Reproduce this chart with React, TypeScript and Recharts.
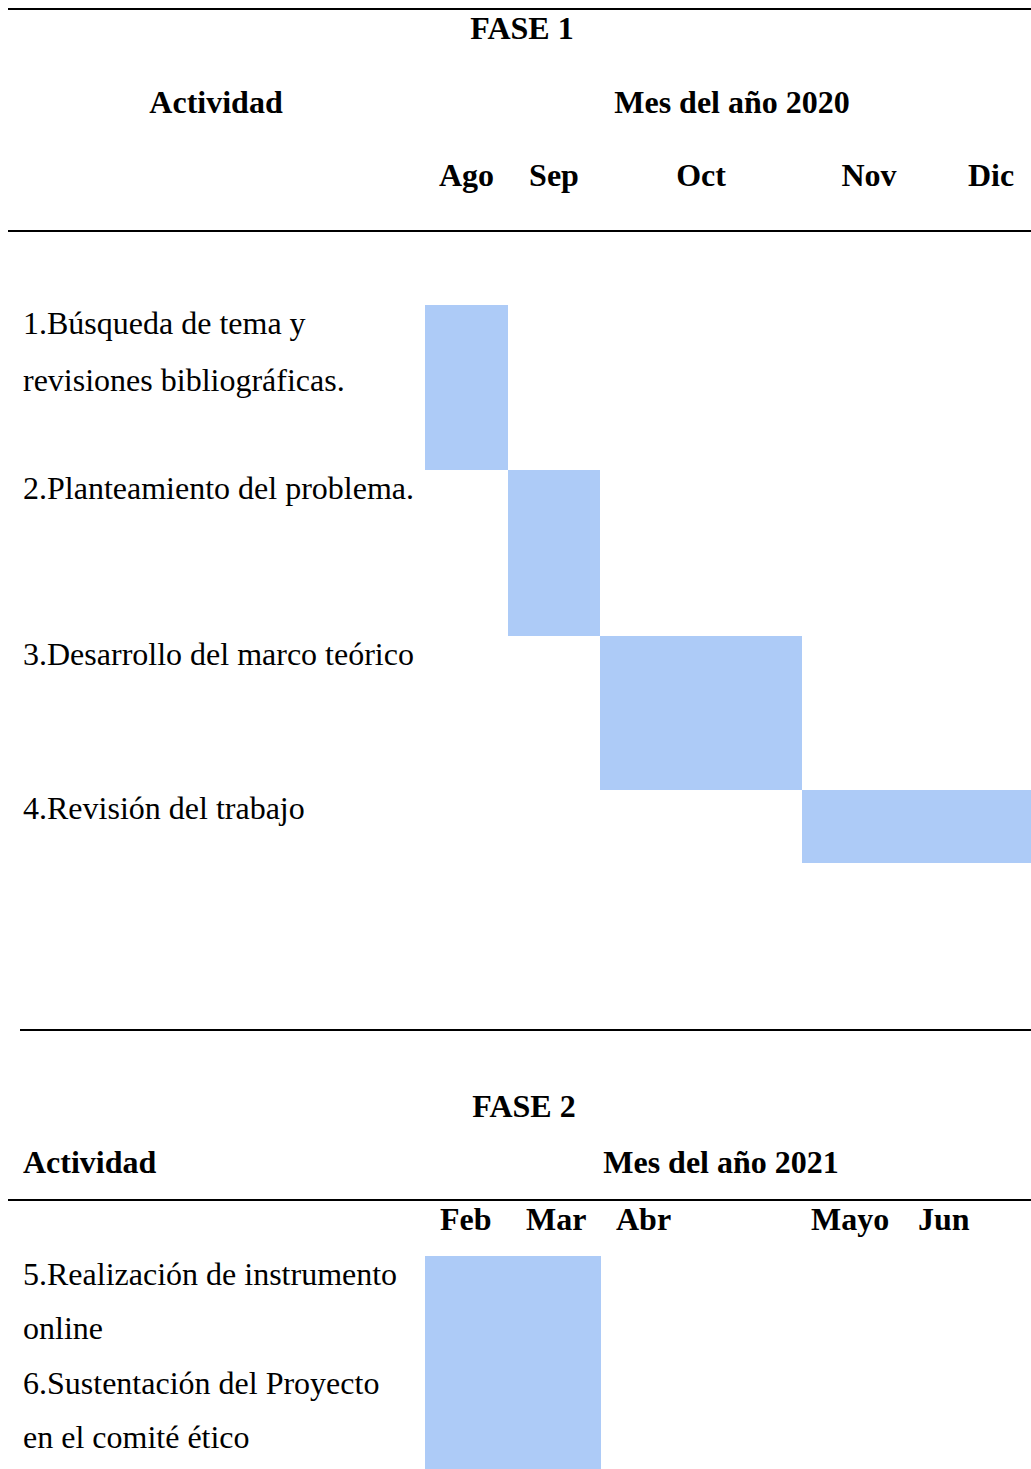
import { BarChart, Bar, XAxis, YAxis } from 'recharts';

// ---- data ----
const fase1Meses = ['Ago', 'Sep', 'Oct', 'Nov', 'Dic'];
const fase1Actividades = [
    '1.Búsqueda de tema y\nrevisiones bibliográficas.',
    '2.Planteamiento del problema.',
    '3.Desarrollo del marco teórico',
    '4.Revisión del trabajo',
];
// month index where each activity starts / ends (end exclusive)
const fase1Inicio = [0, 1, 2, 3];
const fase1Fin = [1, 2, 3, 5];

const fase2Meses = ['Feb', 'Mar', 'Abr', 'Mayo', 'Jun'];
const fase2Actividades = ['5.Realización de instrumento\nonline', '6.Sustentación del Proyecto\nen el comité ético'];
const fase2Inicio = [0, 0];
const fase2Fin = [2, 2];

// ---- table layout (uneven column widths / row heights of the source table) ----
const fase1Columnas = [83, 92, 202, 134, 110];
const fase1Filas = [165, 166, 154, 73];
const fase2Columnas = [86, 90, 195, 107, 143];
const fase2Filas = [109, 104];

const FONT = '"Liberation Serif", "Times New Roman", serif';
const AZUL = '#adcbf7';
const CHART_W = 1046;
const LABEL_W = 425;
const TXT = { fontFamily: FONT, fontSize: 32, fill: '#000' };

// piecewise linear scale: each month gets its own column width
const columnScale = (widths: number[]): any => {
    let dom = [0, widths.length];
    let rng = [0, 1];
    const total = widths.reduce((a, b) => a + b, 0);
    const scale: any = (v: number) => {
        const i = Math.max(0, Math.min(widths.length - 1, Math.floor(v)));
        let acc = 0;
        for (let k = 0; k < i; k++) acc += widths[k];
        acc += (v - i) * widths[i];
        return rng[0] + (acc / total) * (rng[1] - rng[0]);
    };
    scale.domain = (d?: number[]) => {
        if (d === undefined) return dom.slice();
        dom = d.slice();
        return scale;
    };
    scale.range = (r?: number[]) => {
        if (r === undefined) return rng.slice();
        rng = r.slice();
        return scale;
    };
    scale.invert = (px: number) => {
        const t = ((px - rng[0]) / (rng[1] - rng[0])) * total;
        let acc = 0;
        for (let k = 0; k < widths.length; k++) {
            if (t <= acc + widths[k]) return k + (t - acc) / widths[k];
            acc += widths[k];
        }
        return widths.length;
    };
    scale.ticks = () => widths.map((_, i) => i);
    scale.copy = () => columnScale(widths).domain(dom).range(rng);
    return scale;
};

type RowProps = {
    name: string;
    span: [number, number];
    meses: string[];
    columnas: number[];
    height: number;
    axisHeight?: number;
    monthMode: 'center' | 'start';
    monthLift: number;
    lineGap: number;
};

const RowChart = ({ name, span, meses, columnas, height, axisHeight, monthMode, monthLift, lineGap }: RowProps) => {
    const showAxis = axisHeight !== undefined;
    const ticks = meses.map((_, i) => (monthMode === 'center' ? i + 0.5 : i));
    return (
        <BarChart
            width={CHART_W}
            height={height + (axisHeight ?? 0)}
            data={[{ name, span }]}
            layout="vertical"
            margin={{ top: 0, right: 0, bottom: 0, left: 0 }}
            barCategoryGap={0}
            barGap={0}>
            <XAxis
                type="number"
                orientation="top"
                domain={[0, meses.length]}
                scale={columnScale(columnas)}
                ticks={ticks}
                interval={0}
                hide={!showAxis}
                height={axisHeight ?? 0}
                tickSize={0}
                tickMargin={0}
                axisLine={false}
                tickLine={false}
                tick={(p: any) => (
                    <text
                        x={p.x + (monthMode === 'start' ? 15 : 0)}
                        y={p.y - monthLift}
                        textAnchor={monthMode === 'start' ? 'start' : 'middle'}
                        style={{ ...TXT, fontWeight: 'bold' }}>
                        {meses[Math.floor(p.payload.value)]}
                    </text>
                )}
            />
            <YAxis
                type="category"
                dataKey="name"
                width={LABEL_W}
                axisLine={false}
                tickLine={false}
                tickSize={0}
                tick={(p: any) => {
                    const lines = String(p.payload.value).split('\n');
                    const top = p.y - height / 2;
                    return (
                        <text x={23} y={top + 29} textAnchor="start" style={TXT}>
                            {lines.map((l, i) => (
                                <tspan key={i} x={23} dy={i === 0 ? 0 : lineGap}>
                                    {l}
                                </tspan>
                            ))}
                        </text>
                    );
                }}
            />
            <Bar dataKey="span" fill={AZUL} isAnimationActive={false} />
        </BarChart>
    );
};

type FaseProps = {
    actividades: string[];
    inicio: number[];
    fin: number[];
    meses: string[];
    columnas: number[];
    filas: number[];
    firstTop: number;
    axisHeight: number;
    monthMode: 'center' | 'start';
    monthLift: number;
    lineGap: number;
};

const Fase = (f: FaseProps) => {
    let top = f.firstTop;
    return (
        <>
            {f.actividades.map((a, i) => {
                const h = f.filas[i];
                const first = i === 0;
                const chartTop = first ? top - f.axisHeight : top;
                top += h;
                return (
                    <div key={a} style={{ position: 'absolute', left: 0, top: chartTop }}>
                        <RowChart
                            name={a}
                            span={[f.inicio[i], f.fin[i]]}
                            meses={f.meses}
                            columnas={f.columnas}
                            height={h}
                            axisHeight={first ? f.axisHeight : undefined}
                            monthMode={f.monthMode}
                            monthLift={f.monthLift}
                            lineGap={f.lineGap}
                        />
                    </div>
                );
            })}
        </>
    );
};

const App = () => {
    const bold = { ...TXT, fontWeight: 'bold' as const };
    return (
        <div
            style={{
                position: 'absolute',
                left: 0,
                top: 0,
                width: 1031,
                height: 1469,
                overflow: 'hidden',
                background: 'white',
            }}>
            <Fase
                actividades={fase1Actividades}
                inicio={fase1Inicio}
                fin={fase1Fin}
                meses={fase1Meses}
                columnas={fase1Columnas}
                filas={fase1Filas}
                firstTop={305}
                axisHeight={165}
                monthMode="center"
                monthLift={119}
                lineGap={57}
            />
            <Fase
                actividades={fase2Actividades}
                inicio={fase2Inicio}
                fin={fase2Fin}
                meses={fase2Meses}
                columnas={fase2Columnas}
                filas={fase2Filas}
                firstTop={1256}
                axisHeight={55}
                monthMode="start"
                monthLift={26}
                lineGap={54}
            />
            <svg
                width={1031}
                height={1469}
                style={{ position: 'absolute', left: 0, top: 0, pointerEvents: 'none' }}>
                <rect x={8} y={8} width={1023} height={2} fill="#000" />
                <rect x={8} y={230} width={1023} height={2} fill="#000" />
                <rect x={20} y={1029} width={1011} height={2} fill="#000" />
                <rect x={8} y={1199} width={1023} height={2} fill="#000" />
                <text x={522} y={39} textAnchor="middle" style={bold}>FASE 1</text>
                <text x={216} y={113} textAnchor="middle" style={bold}>Actividad</text>
                <text x={732} y={113} textAnchor="middle" style={bold}>Mes del año 2020</text>
                <text x={524} y={1117} textAnchor="middle" style={bold}>FASE 2</text>
                <text x={23} y={1173} textAnchor="start" style={bold}>Actividad</text>
                <text x={721} y={1173} textAnchor="middle" style={bold}>Mes del año 2021</text>
            </svg>
        </div>
    );
};

export default App;
